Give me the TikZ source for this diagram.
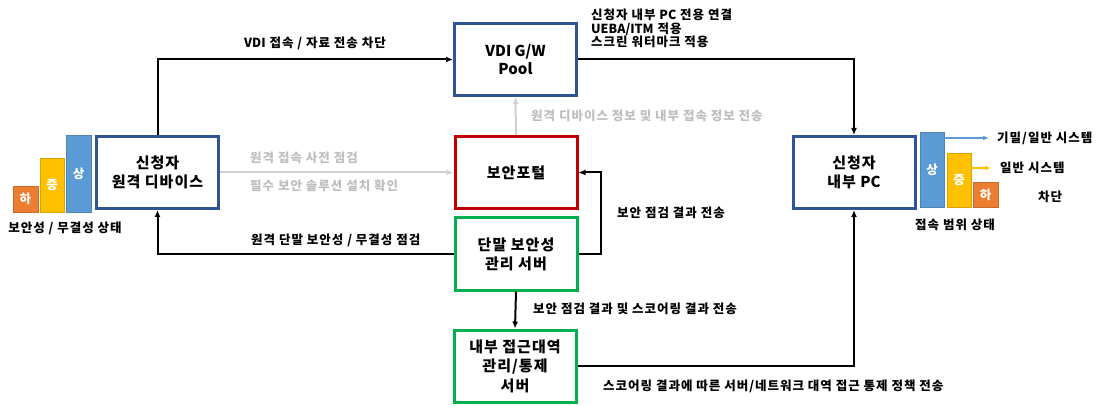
\documentclass[tikz,border=0pt]{standalone}
\usepackage{fontspec}
\setmainfont{Noto Sans CJK KR}
\usetikzlibrary{arrows.meta}
\definecolor{boxblue}{RGB}{47,85,151}
\definecolor{boxred}{RGB}{192,0,0}
\definecolor{boxgreen}{RGB}{0,176,80}
\definecolor{barblue}{RGB}{91,155,213}
\definecolor{baryellow}{RGB}{255,192,0}
\definecolor{barorange}{RGB}{237,125,49}
\definecolor{graytext}{RGB}{190,190,190}
\definecolor{grayline}{RGB}{208,208,208}
\newcommand{\nols}[1]{{\addfontfeature{LetterSpace=0}#1}}
\begin{document}
\begin{tikzpicture}[x=1pt,y=-1pt,
  box/.style={draw, line width=3pt, fill=white, minimum width=122pt, minimum height=72pt,
    align=center, inner sep=0pt, font=\bfseries\fontsize{15}{19}\selectfont\addfontfeature{LetterSpace=7}},
  conn/.style={line width=2pt, -{Latex[length=7pt,width=6pt]}},
  gconn/.style={line width=2pt, draw=grayline, -{Latex[length=7pt,width=6pt]}},
  lbl/.style={inner sep=0pt, font=\bfseries\fontsize{12.5}{14}\selectfont\addfontfeature{LetterSpace=8}},
  glbl/.style={lbl, text=graytext},
  bar/.style={inner sep=0pt, text=white, font=\bfseries\fontsize{12.5}{14}\selectfont, line width=0.6pt},
  sarrow/.style={line width=1.5pt, -{Latex[length=6pt,width=5pt]}}
]
\useasboundingbox (0,0) rectangle (1098,406);

% boxes
\node[box, draw=boxblue] (dev) at (157.5,172.5) {신청자\\원격 디바이스};
\node[box, draw=boxblue, font=\bfseries\fontsize{15}{18}\selectfont] (vdi) at (515.5,59.5) {VDI G/W\\Pool};
\node[box, draw=boxred] (portal) at (516,172.5) {보안포털};
\node[box, draw=boxgreen] (term) at (516,254) {단말 보안성\\관리 서버};
\node[box, draw=boxgreen, font=\bfseries\fontsize{15}{19.5}\selectfont\addfontfeature{LetterSpace=7}] (acc) at (515,366) {내부 접근대역\\관리/통제\\서버};
\node[box, draw=boxblue] (pc) at (854,172.5) {신청자\\내부 \nols{PC}};

% left bars
\node[bar, fill=barorange, draw=barorange!85!black, minimum width=25pt, minimum height=26pt] (lla) at (25.5,199) {하};
\node[bar, fill=baryellow, draw=baryellow!85!black, minimum width=24pt, minimum height=54pt] (lmid) at (52,185) {중};
\node[bar, fill=barblue, draw=barblue!85!black, minimum width=25pt, minimum height=77pt] (lhi) at (78.5,173.5) {상};
\node[lbl] (lstate) at (65,228) {보안성 / 무결성 상태};

% right bars
\node[bar, fill=barblue, draw=barblue!85!black, minimum width=24pt, minimum height=75pt] (rhi) at (932,169.5) {상};
\node[bar, fill=baryellow, draw=baryellow!85!black, minimum width=24pt, minimum height=54pt] (rmid) at (959,180) {중};
\node[bar, fill=barorange, draw=barorange!85!black, minimum width=25pt, minimum height=25pt] (rlo) at (985.5,194.5) {하};
\node[lbl] (rstate) at (955,225) {접속 범위 상태};

\node[lbl, anchor=west] (t1) at (997,138) {기밀/일반 시스템};
\node[lbl, anchor=west] (t2) at (1000,168) {일반 시스템};
\node[lbl, anchor=west] (t3) at (1038,197) {차단};
\coordinate (ba) at (989,138);
\coordinate (ya) at (991,168);
\draw[sarrow, draw=barblue] (rhi.east |- ba) -- (ba);
\draw[sarrow, draw=baryellow] (rmid.east |- ya) -- (ya);

% connectors
\draw[conn] (dev.north) |- (vdi.west);
\draw[conn] (vdi.east) -| (pc.north);
\draw[gconn] (portal.north) -- (vdi.south);
\draw[gconn] (dev.east) -- (portal.west);
\draw[conn] (term.west) -| (dev.south);
\draw[conn] (term.east) -- ++(22,0) |- (portal.east);
\draw[conn] (term.south) -- (acc.north);
\draw[conn] (acc.east) -| (pc.south);

% labels
\node[lbl] (l1) at (315,43) {\nols{VDI} 접속 / 자료 전송 차단};
\node[lbl, anchor=west, align=left, font=\bfseries\fontsize{12.5}{13.5}\selectfont\addfontfeature{LetterSpace=8}] (l2) at (591,28.5) {신청자 내부 \nols{PC} 전용 연결\\\nols{UEBA/ITM} 적용\\스크린 워터마크 적용};
\node[glbl, anchor=west] (l3) at (531,116) {원격 디바이스 정보 및 내부 접속 정보 전송};
\node[glbl, anchor=west] (l4) at (250,158) {원격 접속 사전 점검};
\node[glbl, anchor=west] (l5) at (250,186) {필수 보안 솔루션 설치 확인};
\node[lbl, anchor=west] (l6) at (251,240) {원격 단말 보안성 / 무결성 점검};
\node[lbl, anchor=west] (l7) at (617,213) {보안 점검 결과 전송};
\node[lbl, anchor=west] (l8) at (533,309) {보안 점검 결과 및 스코어링 결과 전송};
\node[lbl, anchor=west] (l9) at (603,386) {스코어링 결과에 따른 서버/네트워크 대역 접근 통제 정책 전송};
\end{tikzpicture}
\end{document}
